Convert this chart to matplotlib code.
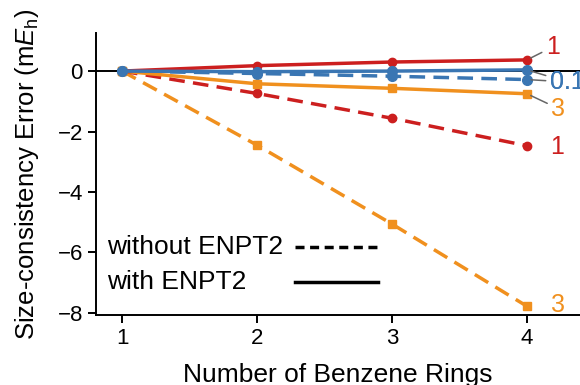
import numpy as np
import matplotlib
matplotlib.use('Agg')
import matplotlib.pyplot as plt

plt.rcParams['font.family'] = ['Liberation Sans', 'DejaVu Sans']
plt.rcParams['mathtext.fontset'] = 'custom'
plt.rcParams['mathtext.rm'] = 'Liberation Sans'
plt.rcParams['mathtext.it'] = 'Liberation Sans:italic'

# ---------------------------------------------------------------------------
# Data
# ---------------------------------------------------------------------------
rings = [1, 2, 3, 4]

red_with = [0.0, 0.18, 0.30, 0.37]
blue_with = [0.0, -0.02, 0.0, 0.04]
orange_with = [0.0, -0.42, -0.57, -0.75]

red_without = [0.0, -0.74, -1.56, -2.47]
blue_without = [0.0, -0.08, -0.17, -0.28]
orange_without = [0.0, -2.45, -5.06, -7.78]

RED = '#cc1f1f'
BLUE = '#3a76b3'
ORANGE = '#f0901e'

# ---------------------------------------------------------------------------
# Plot
# ---------------------------------------------------------------------------
fig = plt.figure(figsize=(5.8, 3.85), dpi=100)
ax = fig.add_axes([96 / 580, 70 / 385, 1 - 96 / 580, 282 / 385])

ax.axhline(0, color='black', lw=1.4, zorder=1)

lw = 2.5
dash = (4.5, 2.4)
ax.plot(rings, orange_without, '--', color=ORANGE, lw=lw, marker='s', ms=6,
        dashes=dash)
ax.plot(rings, red_without, '--', color=RED, lw=lw, marker='o', ms=6,
        dashes=dash)
ax.plot(rings, blue_without, '--', color=BLUE, lw=lw, marker='o', ms=7,
        dashes=dash)
ax.plot(rings, orange_with, '-', color=ORANGE, lw=lw, marker='s', ms=6)
ax.plot(rings, red_with, '-', color=RED, lw=lw, marker='o', ms=6)
ax.plot(rings, blue_with, '-', color=BLUE, lw=lw, marker='o', ms=7)

# end labels
fs = 18
lineprops = dict(arrowstyle='-', color='#666666', lw=1.1, shrinkA=1, shrinkB=3)
ax.annotate('1', xy=(4, red_with[-1]), xytext=(4.14, 0.8), color=RED,
            fontsize=fs, ha='left', va='center', arrowprops=lineprops,
            annotation_clip=False)
for yb in (blue_with[-1], blue_without[-1]):
    ax.annotate('0.1', xy=(4, yb), xytext=(4.17, -0.36), color=BLUE,
                fontsize=fs, ha='left', va='center', arrowprops=lineprops,
                annotation_clip=False)
ax.annotate('3', xy=(4, orange_with[-1]), xytext=(4.18, -1.24), color=ORANGE,
            fontsize=fs, ha='left', va='center', arrowprops=lineprops,
            annotation_clip=False)
ax.text(4.17, red_without[-1] - 0.05, '1', color=RED, fontsize=fs,
        ha='left', va='center')
ax.text(4.18, orange_without[-1] + 0.05, '3', color=ORANGE, fontsize=fs,
        ha='left', va='center')

# legend: text on the left, line sample on the right
leg_labels = ['without ENPT2', 'with ENPT2']
leg_styles = [dict(ls='--', dashes=(2.6, 1.6)), dict(ls='-')]
leg_y = [0.241, 0.117]
for lab, st, yy in zip(leg_labels, leg_styles, leg_y):
    ax.text(0.023, yy, lab, transform=ax.transAxes, fontsize=19,
            ha='left', va='center')
    ax.plot([0.412, 0.583], [yy, yy], transform=ax.transAxes, color='black',
            lw=2.5, **st)

ax.set_xlim(0.807, 4.393)
ax.set_ylim(-8.07, 1.26)
ax.set_xticks([1, 2, 3, 4])
ax.set_yticks([0, -2, -4, -6, -8])
ax.set_yticklabels(['0', '\u22122', '\u22124', '\u22126', '\u22128'])
ax.tick_params(labelsize=16, width=1.4, length=6, direction='out')
for s in ['top', 'right']:
    ax.spines[s].set_visible(False)
for s in ['left', 'bottom']:
    ax.spines[s].set_linewidth(1.4)

ax.set_xlabel('Number of Benzene Rings', fontsize=19, labelpad=10)
ax.set_ylabel(r'Size-consistency Error (m$E_\mathrm{h}$)', fontsize=18.5,
              labelpad=12)

fig.savefig('out.png', dpi=100)
